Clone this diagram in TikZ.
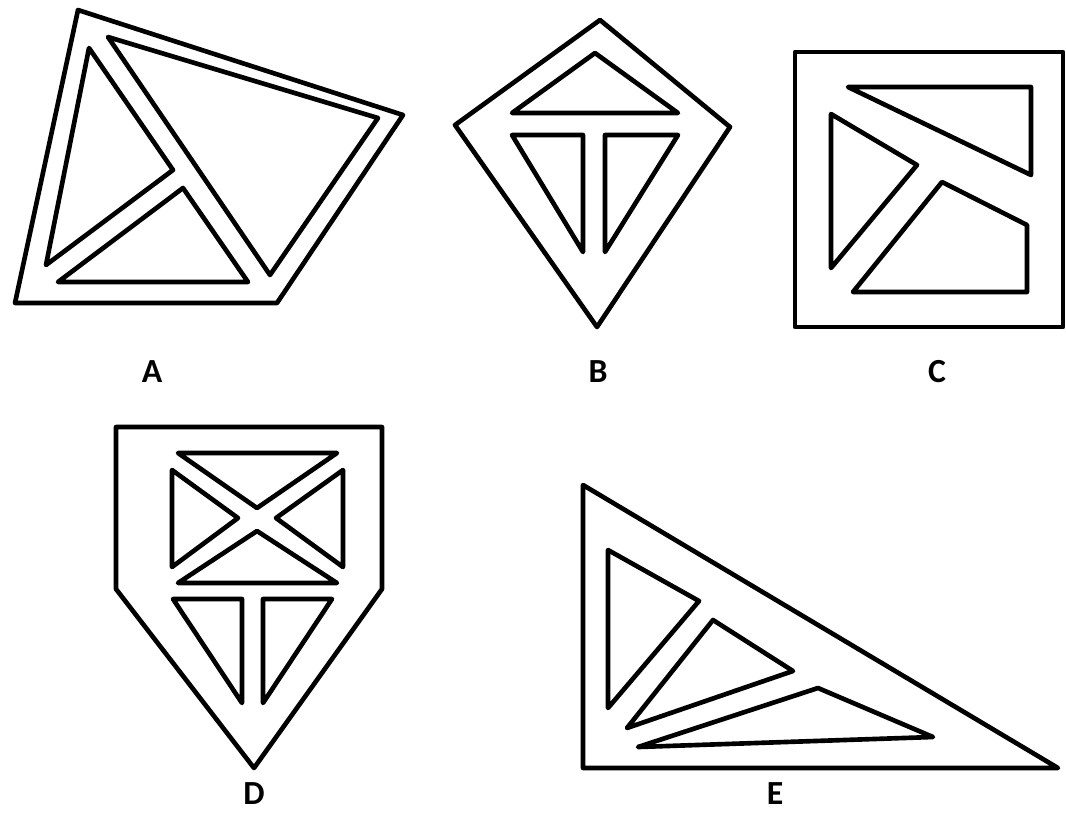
\documentclass[tikz,border=0pt]{standalone}
\usepackage{fontspec}
\setsansfont{Carlito}
\usetikzlibrary{positioning}

\begin{document}
\begin{tikzpicture}[
    x=0.025cm, y=-0.025cm,
    rim/.style={draw=black, line width=3.3pt, line join=round},
    hole/.style={rim},
    figlbl/.style={font=\sffamily\bfseries\fontsize{24}{26}\selectfont, inner sep=0pt}
]
\useasboundingbox (0,0) rectangle (1066,812);

% figure A
\draw[rim]  (78,10) -- (403,115) -- (277,303) -- (15,303) -- cycle;
\draw[hole] (108,37) -- (378,118) -- (270,275) -- cycle;
\draw[hole] (89,48) -- (173,170) -- (46,265) -- cycle;
\draw[hole] (183,188) -- (248,282) -- (58,282) -- cycle;
\node[figlbl] (lblA) at (152,372) {A};

% figure B
\draw[rim]  (600,20) -- (730,127) -- (597,327) -- (455,125) -- cycle;
\draw[hole] (595,53) -- (678,113) -- (512,113) -- cycle;
\draw[hole] (512,135) -- (583,135) -- (583,252) -- cycle;
\draw[hole] (605,135) -- (678,135) -- (605,252) -- cycle;
\node[figlbl] (lblB) at (598,372) {B};

% figure C
\draw[rim]  (795,52) rectangle (1063,327);
\draw[hole] (848,87) -- (1031,87) -- (1031,175) -- cycle;
\draw[hole] (831,114) -- (917,165) -- (831,268) -- cycle;
\draw[hole] (942,182) -- (1027,225) -- (1027,292) -- (853,292) -- cycle;
\node[figlbl] (lblC) at (937,372) {C};

% figure D
\draw[rim]  (116,427) -- (382,427) -- (382,589) -- (254,768) -- (116,589) -- cycle;
\draw[hole] (178,453) -- (337,453) -- (257,508) -- cycle;
\draw[hole] (172,470) -- (238,518) -- (172,567) -- cycle;
\draw[hole] (343,470) -- (276,518) -- (343,567) -- cycle;
\draw[hole] (257,531) -- (337,583) -- (178,583) -- cycle;
\draw[hole] (173,599) -- (242,599) -- (242,703) -- cycle;
\draw[hole] (263,599) -- (332,599) -- (263,703) -- cycle;
\node[figlbl] (lblD) at (254,794) {D};

% figure E
\draw[rim]  (583,485) -- (1058,768) -- (583,768) -- cycle;
\draw[hole] (608,550) -- (699,601) -- (608,708) -- cycle;
\draw[hole] (713,620) -- (793,671) -- (627,728) -- cycle;
\draw[hole] (818,688) -- (933,737) -- (638,747) -- cycle;
\node[figlbl] (lblE) at (775,794) {E};
\end{tikzpicture}
\end{document}
